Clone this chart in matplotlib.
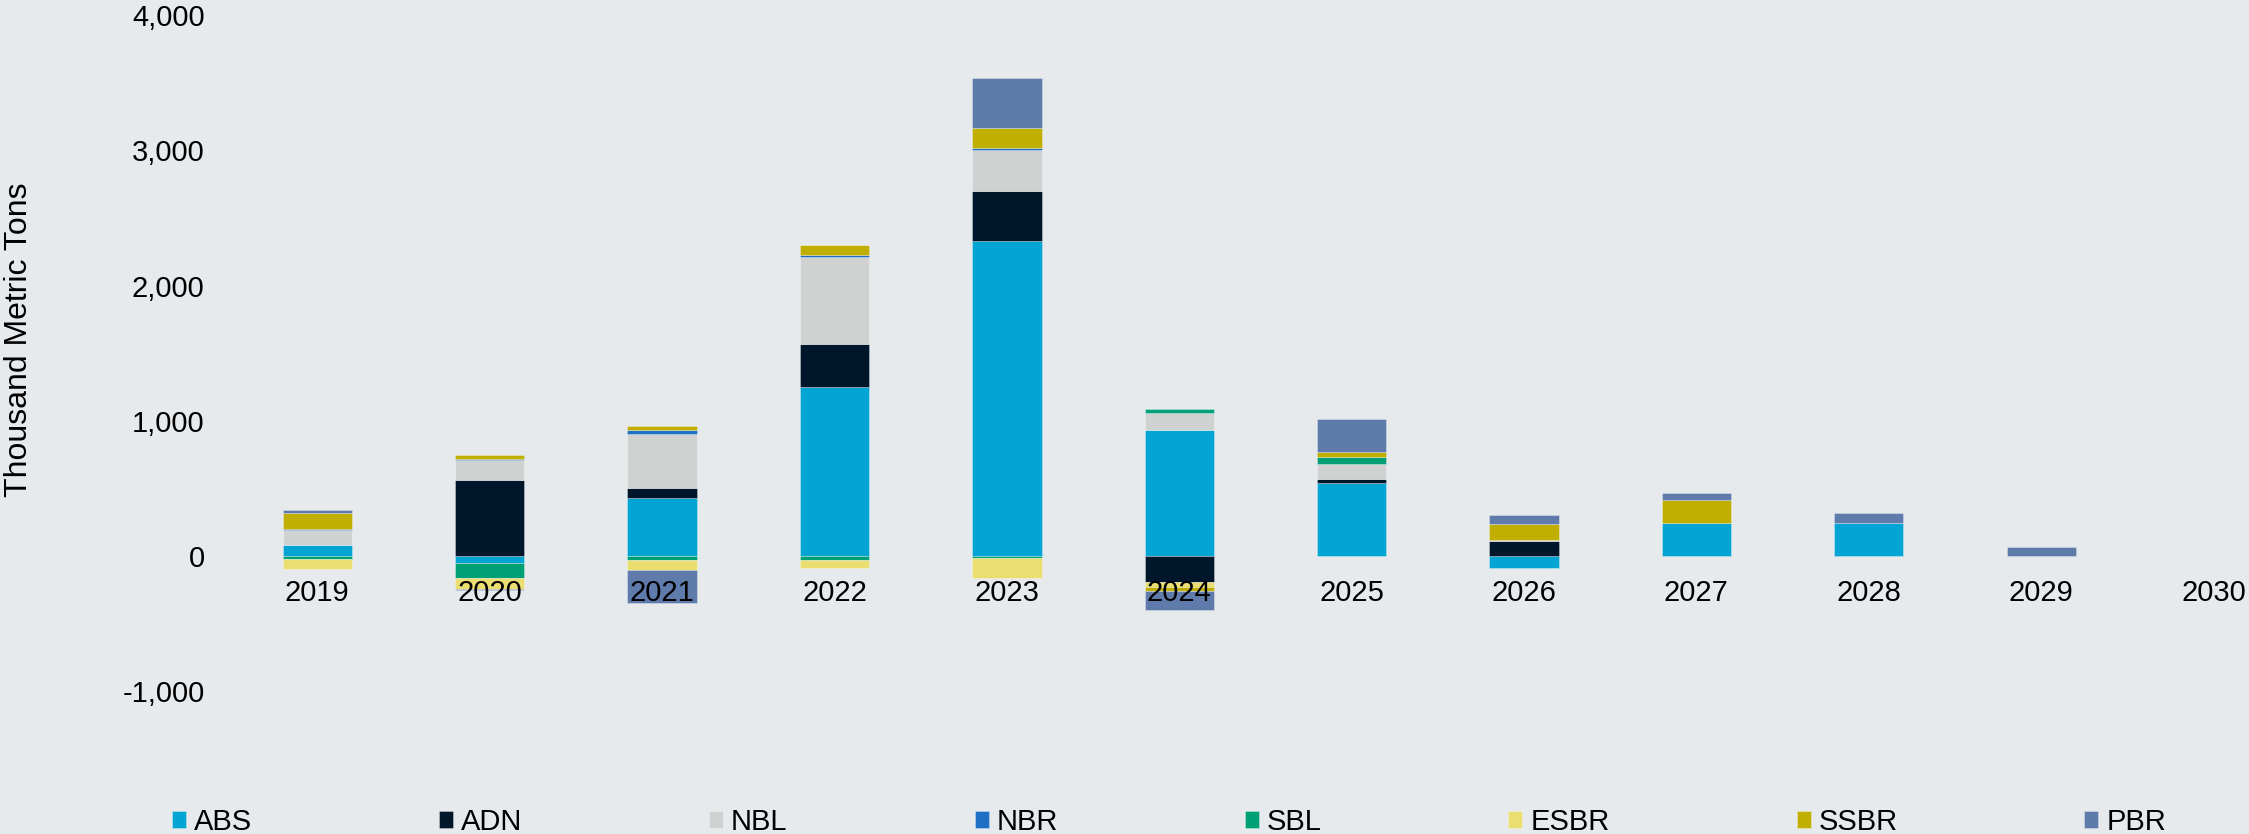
import matplotlib
matplotlib.use('Agg')
import matplotlib.pyplot as plt
import numpy as np

plt.rcParams['font.family'] = ['Liberation Sans', 'DejaVu Sans']

years = ['2019', '2020', '2021', '2022', '2023', '2024', '2025', '2026', '2027', '2028', '2029', '2030']

# thousand metric tons
abs_v  = [86, -52, 434, 1250, 2331, 931, 542, -89, 249, 249, 0, 0]
adn_v  = [0, 564, 74, 316, 367, -190, 30, 113, 0, 0, 0, 0]
nbl_v  = [108, 151, 399, 643, 303, 126, 113, 8, 0, 0, 0, 0]
nbr_v  = [4, 6, 25, 20, 15, 0, 0, 0, 0, 0, 0, 0]
sbl_v  = [-22, -108, -25, -27, -12, 32, 49, 0, 0, 0, 0, 0]
esbr_v = [-70, -84, -79, -62, -148, -37, 0, 0, 0, 0, 0, 0]
ssbr_v = [118, 27, 30, 72, 148, -32, 37, 118, 165, 0, 0, 0]
pbr_v  = [22, -5, -244, 3, 370, -140, 242, 67, 52, 71, 71, 0]

names = ['ABS', 'ADN', 'NBL', 'NBR', 'SBL', 'ESBR', 'SSBR', 'PBR']
series = [abs_v, adn_v, nbl_v, nbr_v, sbl_v, esbr_v, ssbr_v, pbr_v]
colors = ['#02A4D4', '#00172B', '#D0D2D1', '#1F6FC4', '#00A077', '#EBDE70', '#C0AF00', '#5F7BAC']

bg = '#E6EAED'
fs = 21

fig = plt.figure(figsize=(22.49, 8.34), dpi=100, facecolor=bg)
ax = fig.add_axes([0.10276, 0.0898, 0.8972, 0.892], facecolor=bg)

x = np.arange(len(years))
pos_bottom = np.zeros(len(years))
neg_bottom = np.zeros(len(years))
for name, vals, col in zip(names, series, colors):
    v = np.array(vals, dtype=float)
    bottom = np.where(v >= 0, pos_bottom, neg_bottom)
    # skip empty segments so they leave no edge line
    ax.bar(x, np.where(v == 0, np.nan, v), width=0.402, bottom=bottom, color=col, label=name,
           edgecolor=(1, 1, 1, 0.35), linewidth=0.6)
    pos_bottom += np.where(v > 0, v, 0)
    neg_bottom += np.where(v < 0, v, 0)

ax.set_xlim(-0.5, 11.205)
ax.set_ylim(-1500, 4000)
ax.set_yticks(range(-1000, 4001, 1000))
ax.set_yticklabels([f'{t:,}' for t in range(-1000, 4001, 1000)])
ax.set_xticks(x)
ax.set_xticklabels(years)

for s in ax.spines.values():
    s.set_visible(False)
ax.spines['bottom'].set_position(('data', 0))
ax.tick_params(axis='y', length=0, pad=19, labelsize=fs)
ax.tick_params(axis='x', length=0, pad=16.5, labelsize=fs)

fig.text(19.5 / 2249, 1 - 340 / 834, 'Thousand Metric Tons', rotation=90,
         ha='center', va='center', fontsize=23)

fig.legend(loc='center left', bbox_to_anchor=(172 / 2249, 0.0144), ncol=8,
           frameon=False, fontsize=fs, handlelength=0.48, handleheight=0.51,
           handletextpad=0.27, columnspacing=6.41, borderpad=0, borderaxespad=0)

fig.savefig('out.png', dpi=100, facecolor=bg)
